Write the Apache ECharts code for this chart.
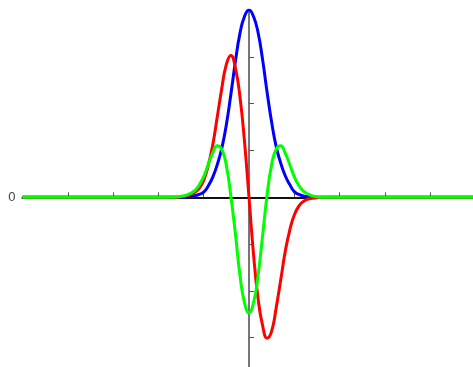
<!DOCTYPE html>
<html>
<head>
<meta charset="utf-8">
<script src="https://cdn.jsdelivr.net/npm/echarts@6/dist/echarts.min.js"></script>
<style>
  html, body { margin: 0; padding: 0; background: #fff; overflow: hidden; }
  /* chart box runs a little past the window on the right and bottom, like the source crop */
  #chart { width: 476px; height: 385px; }
</style>
</head>
<body>
<div id="chart"></div>
<script>
const xs = [-5, -1.7, -1.6, -1.5, -1.4, -1.3, -1.2, -1.1, -1.0, -0.9, -0.8, -0.7, -0.6, -0.5, -0.4, -0.3, -0.2, -0.1,
  0, 0.1, 0.2, 0.3, 0.4, 0.5, 0.6, 0.7, 0.8, 0.9, 1.0, 1.1, 1.2, 1.3, 1.4, 1.5, 1.6, 1.7, 5];

// blue bell curve
const blueVals = [0, 0, 0, 0, 0.005, 0.01, 0.03, 0.06, 0.11, 0.24, 0.43, 0.7, 1.05, 1.55, 2.2, 2.9, 3.5, 3.86,
  4.0, 3.86, 3.52, 2.94, 2.24, 1.6, 1.08, 0.73, 0.46, 0.27, 0.12, 0.06, 0.03, 0.01, 0.005, 0, 0, 0, 0];

// red (first derivative shape)
const redVals = [0, 0, 0, 0.01, 0.02, 0.05, 0.1, 0.19, 0.36, 0.68, 1.12, 1.72, 2.33, 2.84, 3.03, 2.76, 2.15, 1.2,
  0, -1.22, -2.16, -2.74, -3.01, -2.86, -2.36, -1.77, -1.16, -0.7, -0.38, -0.19, -0.09, -0.04, -0.02, -0.01, 0, 0, 0];

// green (second derivative shape)
const greenVals = [0, 0, 0.005, 0.02, 0.04, 0.08, 0.14, 0.26, 0.44, 0.7, 0.95, 1.1, 1.02, 0.68, 0.02, -0.78, -1.66, -2.25,
  -2.47, -2.25, -1.68, -0.82, 0.05, 0.7, 1.03, 1.1, 0.94, 0.7, 0.44, 0.25, 0.13, 0.07, 0.03, 0.01, 0, 0, 0];

const xTicks = [-4, -3, -2, -1, 1, 2, 3, 4];
const yTicks = [-3, -2, -1, 1, 2, 3];

const toPairs = vals => xs.map((x, i) => [x, vals[i]]);

const chart = echarts.init(document.getElementById('chart'));

const option = {
  animation: false,
  backgroundColor: '#fff',
  grid: {
    left: 22.5,
    right: 0.5,
    top: 10,
    bottom: 0.5
  },
  xAxis: {
    type: 'value',
    min: -5,
    max: 5,
    interval: 1,
    splitLine: { show: false },
    axisLine: { onZero: true, lineStyle: { color: '#111', width: 2 } },
    axisTick: { inside: true, length: 5, customValues: xTicks, lineStyle: { color: '#555', width: 1 } },
    axisLabel: { show: false }
  },
  yAxis: [
    {
      type: 'value',
      min: -4,
      max: 4,
      interval: 1,
      splitLine: { show: false },
      axisLine: { onZero: true, lineStyle: { color: '#777', width: 2 } },
      axisTick: { inside: true, length: 5, customValues: yTicks, lineStyle: { color: '#555', width: 1 } },
      axisLabel: { show: false }
    },
    {
      // only carries the "0" label on the far left
      type: 'value',
      position: 'left',
      min: -4,
      max: 4,
      interval: 1,
      splitLine: { show: false },
      axisLine: { show: false, onZero: false },
      axisTick: { show: false },
      axisLabel: {
        margin: 7,
        color: '#444',
        fontSize: 13,
        fontFamily: 'Liberation Sans, sans-serif',
        formatter: v => (v === 0 ? '0' : '')
      }
    }
  ],
  series: [
    {
      name: 'blue',
      type: 'line',
      smooth: true,
      showSymbol: false,
      lineStyle: { color: '#0000ff', width: 3 },
      data: toPairs(blueVals)
    },
    {
      name: 'red',
      type: 'line',
      smooth: true,
      showSymbol: false,
      lineStyle: { color: '#ff0000', width: 3 },
      data: toPairs(redVals)
    },
    {
      name: 'green',
      type: 'line',
      smooth: true,
      showSymbol: false,
      lineStyle: { color: '#00ff00', width: 3 },
      data: toPairs(greenVals)
    }
  ]
};

chart.setOption(option);
</script>
</body>
</html>
